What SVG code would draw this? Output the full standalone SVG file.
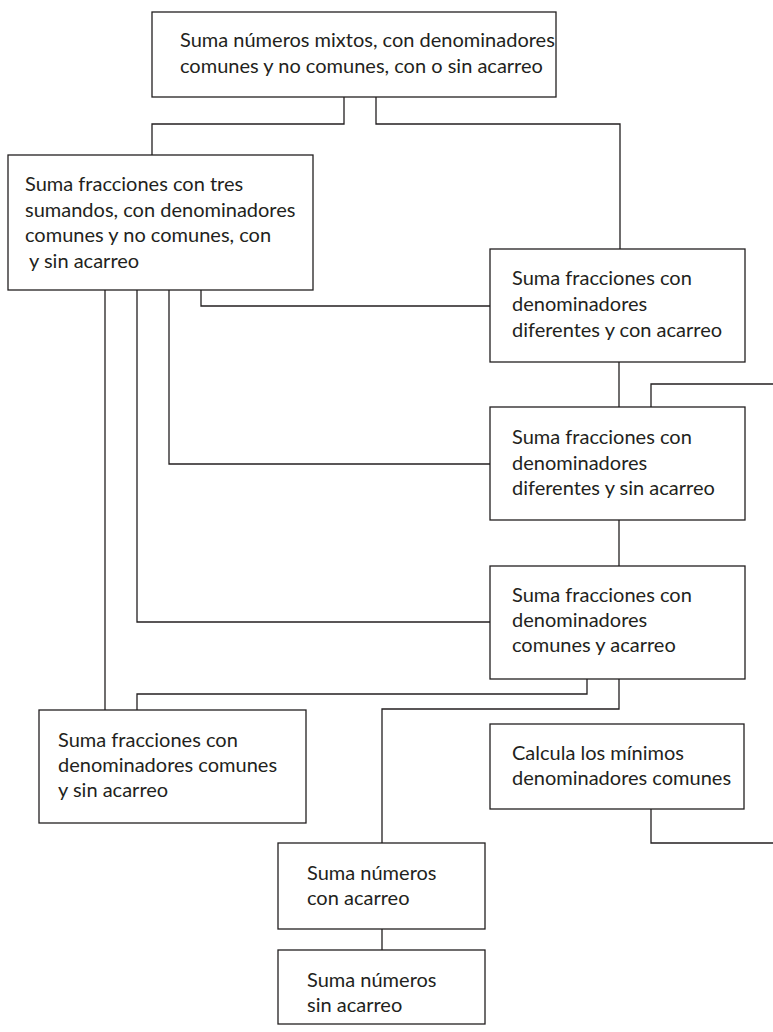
<svg xmlns="http://www.w3.org/2000/svg" width="773" height="1032" viewBox="0 0 773 1032">
<style>
rect{fill:#fff;stroke:#231f20;stroke-width:1.3}
text{font-family:Lato,"Liberation Sans",sans-serif;font-size:20px;fill:#231f20}
#connectors path{fill:none;stroke:#231f20;stroke-width:1.3}
</style>
<rect x="0" y="0" width="773" height="1032" style="fill:#fff;stroke:none"/>
<g id="connectors">
<path d="M344 97V124H152V155"/>
<path d="M376 97V124H620V249"/>
<path d="M105 290V710"/>
<path d="M137 290V622H490"/>
<path d="M169 290V464H490"/>
<path d="M201 290V306H490"/>
<path d="M619 362V407"/>
<path d="M651 407V384H773"/>
<path d="M619 520V566"/>
<path d="M587 679V694H137V710"/>
<path d="M619 679V709H382V843"/>
<path d="M651 809V843H773"/>
<path d="M382 929V950"/>
</g>
<g id="n1"><rect x="152" y="12" width="404" height="85"/><text x="180" y="47">Suma números mixtos, con denominadores</text><text x="180" y="73">comunes y no comunes, con o sin acarreo</text></g>
<g id="n2"><rect x="8" y="155" width="305" height="135"/><text x="25" y="191">Suma fracciones con tres</text><text x="25" y="217">sumandos, con denominadores</text><text x="25" y="242">comunes y no comunes, con</text><text x="29" y="268">y sin acarreo</text></g>
<g id="n3"><rect x="490" y="249" width="255" height="113"/><text x="512" y="285">Suma fracciones con</text><text x="512" y="311">denominadores</text><text x="512" y="337">diferentes y con acarreo</text></g>
<g id="n4"><rect x="490" y="407" width="255" height="113"/><text x="512" y="444">Suma fracciones con</text><text x="512" y="470">denominadores</text><text x="512" y="495">diferentes y sin acarreo</text></g>
<g id="n5"><rect x="490" y="566" width="255" height="113"/><text x="512" y="602">Suma fracciones con</text><text x="512" y="627">denominadores</text><text x="512" y="652">comunes y acarreo</text></g>
<g id="n6"><rect x="39" y="710" width="267" height="113"/><text x="58" y="747">Suma fracciones con</text><text x="58" y="772">denominadores comunes</text><text x="58" y="797">y sin acarreo</text></g>
<g id="n7"><rect x="490" y="724" width="254" height="85"/><text x="512" y="760">Calcula los mínimos</text><text x="512" y="785">denominadores comunes</text></g>
<g id="n8"><rect x="278" y="843" width="207" height="86"/><text x="307" y="880">Suma números</text><text x="307" y="905">con acarreo</text></g>
<g id="n9"><rect x="278" y="950" width="207" height="74"/><text x="307" y="987">Suma números</text><text x="307" y="1012">sin acarreo</text></g>
</svg>
